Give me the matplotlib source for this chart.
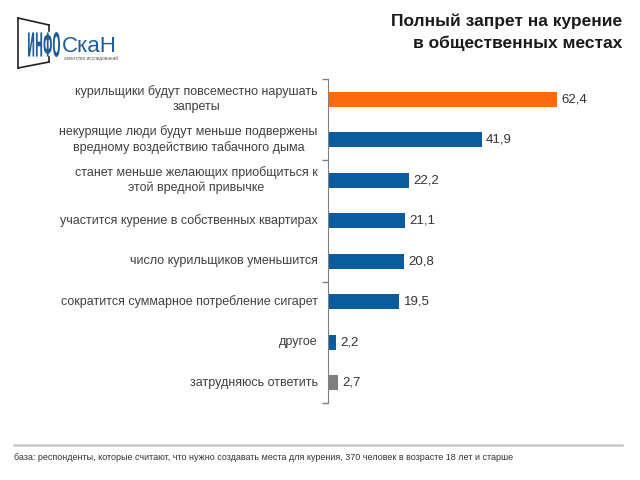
import matplotlib.pyplot as plt
from matplotlib.lines import Line2D
from matplotlib.textpath import TextPath
from matplotlib.patches import PathPatch
from matplotlib.font_manager import FontProperties
from matplotlib.transforms import Affine2D

# survey answers, top to bottom
categories = [
    "курильщики будут повсеместно нарушать\nзапреты",
    "некурящие люди будут меньше подвержены\nвредному воздействию табачного дыма",
    "станет меньше желающих приобщиться к\nэтой вредной привычке",
    "участится курение в собственных квартирах",
    "число курильщиков уменьшится",
    "сократится суммарное потребление сигарет",
    "другое",
    "затрудняюсь ответить",
]
values = [62.4, 41.9, 22.2, 21.1, 20.8, 19.5, 2.2, 2.7]
value_labels = ["62,4", "41,9", "22,2", "21,1", "20,8", "19,5", "2,2", "2,7"]
bar_colors = ["#FF6A0D"] + ["#0B5C9E"] * 6 + ["#7F7F7F"]

title = "Полный запрет на курение\nв общественных местах"
footnote = ("база: респонденты, которые считают, что нужно создавать места для курения, "
            "370 человек в возрасте 18 лет и старше")

plt.rcParams['font.family'] = ['Liberation Sans', 'DejaVu Sans']

fig = plt.figure(figsize=(6.4, 4.8), dpi=100)
ax = fig.add_axes([0.5125, 0.1604, 0.458, 0.675])

y = list(range(len(categories)))
ax.barh(y, values, height=0.38, color=bar_colors)
for yi, v, lab in zip(y, values, value_labels):
    ax.text(v + 1.2, yi, lab, va='center', ha='left', fontsize=9.5, color='#333333')

ax.set_xlim(0, 80)
ax.set_ylim(7.5, -0.5)
ax.set_xticks([])
ax.set_yticks([-0.5, 1.5, 4.5, 7.5])
ax.set_yticklabels([])
ax.tick_params(axis='y', length=4, color='#808080', width=1)
for s in ['top', 'right', 'bottom']:
    ax.spines[s].set_visible(False)
ax.spines['left'].set_color('#808080')

for yi, cat in zip(y, categories):
    ax.text(-0.035, yi, cat, transform=ax.get_yaxis_transform(), ha='right', va='center',
            multialignment='center', fontsize=9, color='#404040', linespacing=1.3)

# title
fig.text(0.972, 0.972, title, ha='right', va='top', fontsize=12.5, fontweight='bold',
         color='#1a1a1a', linespacing=1.5)

# logo (pixel coordinates from top-left)
fx = lambda px: px / 640
fy = lambda py: 1 - py / 480
for (x0, y0, x1, y1) in [(18, 18, 18, 68), (18, 18, 49, 25), (18, 68, 49, 62),
                         (49, 25, 49, 31), (49, 57, 49, 62)]:
    fig.add_artist(Line2D([fx(x0), fx(x1)], [fy(y0), fy(y1)], color='#222222', lw=1.2))

tp = TextPath((0, 0), "ИНФО", size=10, prop=FontProperties(family='DejaVu Sans', weight='bold'))
bb = tp.get_extents()
tr = (Affine2D().translate(-bb.x0, -bb.y0)
      .scale(32 / bb.width, 25 / bb.height)
      .translate(28, 480 - 57))
fig.add_artist(PathPatch(tr.transform_path(tp), transform=None, facecolor='#1F5C99',
                         edgecolor='none'))
fig.text(fx(62), fy(46), "СкаН", ha='left', va='center', fontsize=16, color='#1F5C99')
fig.text(fx(64), fy(58), "агентство исследований", ha='left', va='center', fontsize=3.3,
         color='#555555')

# footer
fig.add_artist(Line2D([fx(14), fx(622)], [fy(445), fy(445)], color='#C8C8C8', lw=1.8))
fig.text(fx(14), fy(458), footnote, ha='left', va='center', fontsize=6.5, color='#333333')

fig.savefig('out.png', dpi=100)
